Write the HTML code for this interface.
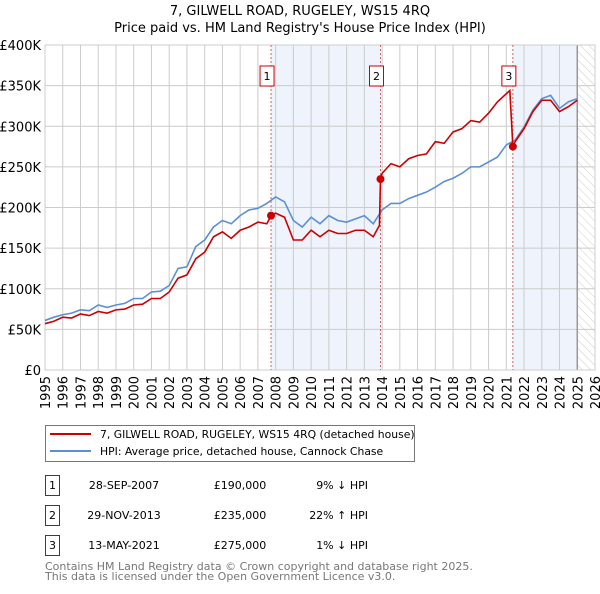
<!DOCTYPE html>
<html><head><meta charset="utf-8"><style>
body{margin:0;background:#fff;font-family:"DejaVu Sans","Liberation Sans",sans-serif;}
svg text{font-family:"DejaVu Sans","Liberation Sans",sans-serif;}
</style></head><body>
<svg id="chart" width="600" height="590" xmlns="http://www.w3.org/2000/svg">
<defs><pattern id="hatch" width="6" height="6" patternUnits="userSpaceOnUse" patternTransform="rotate(-45)"><line x1="0" y1="0" x2="0" y2="6" stroke="#ccc" stroke-width="1"/></pattern></defs>
<text x="300" y="15" text-anchor="middle" font-size="13">7, GILWELL ROAD, RUGELEY, WS15 4RQ</text>
<text x="300" y="32" text-anchor="middle" font-size="13">Price paid vs. HM Land Registry's House Price Index (HPI)</text>
<g id="bg"></g><g id="grid"></g><g id="marks"></g><g id="axes"></g>
<rect x="45.5" y="425.5" width="369" height="36" fill="#fff" stroke="#777"/>
<line x1="50" y1="434" x2="91" y2="434" stroke="#cc0000" stroke-width="2"/>
<text x="100" y="438" font-size="10.8">7, GILWELL ROAD, RUGELEY, WS15 4RQ (detached house)</text>
<line x1="50" y1="451" x2="91" y2="451" stroke="#5b8fd6" stroke-width="2"/>
<text x="100" y="455" font-size="10.8">HPI: Average price, detached house, Cannock Chase</text>
<g id="table" font-size="11"></g>
<text x="45" y="570" font-size="11" fill="#777">Contains HM Land Registry data © Crown copyright and database right 2025.</text>
<text x="45" y="580" font-size="11" fill="#777">This data is licensed under the Open Government Licence v3.0.</text>
</svg>
<script>
const hpiYears=[1995,1995.5,1996,1996.5,1997,1997.5,1998,1998.5,1999,1999.5,2000,2000.5,2001,2001.5,2002,2002.5,2003,2003.5,2004,2004.5,2005,2005.5,2006,2006.5,2007,2007.5,2008,2008.5,2009,2009.5,2010,2010.5,2011,2011.5,2012,2012.5,2013,2013.5,2014,2014.5,2015,2015.5,2016,2016.5,2017,2017.5,2018,2018.5,2019,2019.5,2020,2020.5,2021,2021.5,2022,2022.5,2023,2023.5,2024,2024.5,2025];
const hpiValues=[61,65,68,70,74,73,80,77,80,82,88,88,96,97,104,125,127,152,160,176,184,180,190,197,199,205,213,207,184,176,188,180,190,184,182,186,190,180,197,205,205,211,215,219,225,232,236,242,250,250,256,262,277,283,299,320,334,338,322,330,334];
const redYears=[1995,1995.5,1996,1996.5,1997,1997.5,1998,1998.5,1999,1999.5,2000,2000.5,2001,2001.5,2002,2002.5,2003,2003.5,2004,2004.5,2005,2005.5,2006,2006.5,2007,2007.5,2007.75,2008,2008.5,2009,2009.5,2010,2010.5,2011,2011.5,2012,2012.5,2013,2013.5,2013.85,2013.91,2014,2014.5,2015,2015.5,2016,2016.5,2017,2017.5,2018,2018.5,2019,2019.5,2020,2020.5,2021.2,2021.37,2021.5,2022,2022.5,2023,2023.5,2024,2024.5,2025];
const redValues=[57,60,65,64,69,67,72,70,74,75,80,81,88,88,96,113,117,137,145,164,170,162,172,176,182,180,190,193,188,160,160,172,164,172,168,168,172,172,164,178,235,242,254,250,260,264,266,281,279,293,297,307,305,316,330,344,275,281,297,318,332,332,318,324,332];
const saleYears=[2007.74,2013.91,2021.37];
const salePrices=[190,235,275];
const saleLabels=["1","2","3"];
const saleDates=["28-SEP-2007","29-NOV-2013","13-MAY-2021"];
const salePriceText=["£190,000","£235,000","£275,000"];
const saleHpiText=["9% ↓ HPI","22% ↑ HPI","1% ↓ HPI"];
const yTicks=[0,50,100,150,200,250,300,350,400];
const yTickLabels=["£0","£50K","£100K","£150K","£200K","£250K","£300K","£350K","£400K"];
const xTicks=[1995,1996,1997,1998,1999,2000,2001,2002,2003,2004,2005,2006,2007,2008,2009,2010,2011,2012,2013,2014,2015,2016,2017,2018,2019,2020,2021,2022,2023,2024,2025,2026];

const X0=45,X1=595,Y0=370,Y1=45;
const xs=y=>X0+(y-1995)/(2026-1995)*(X1-X0);
const ys=v=>Y0-v/400*(Y0-Y1);
const NS="http://www.w3.org/2000/svg";
function mk(parent,tag,attrs){const e=document.createElementNS(NS,tag);for(const k in attrs)e.setAttribute(k,attrs[k]);document.getElementById(parent).appendChild(e);return e;}
let r;
r=mk('bg','rect',{x:xs(saleYears[0]),y:Y1,width:xs(saleYears[1])-xs(saleYears[0]),height:Y0-Y1,fill:'#eef3fc'});


r=mk('bg','rect',{x:xs(saleYears[2]),y:Y1,width:xs(2025)-xs(saleYears[2]),height:Y0-Y1,fill:'#eef3fc'});


r=mk('bg','rect',{x:xs(2025),y:Y1,width:X1-xs(2025),height:Y0-Y1,fill:'url(#hatch)'});


yTicks.forEach((t,i)=>{mk('grid','line',{x1:X0,x2:X1,y1:ys(t),y2:ys(t),stroke:'#ccc'});
const tx=mk('axes','text',{x:X0-4,y:ys(t)+5,'text-anchor':'end','font-size':'13'});tx.textContent=yTickLabels[i];

});
xTicks.forEach(t=>{mk('grid','line',{x1:xs(t),x2:xs(t),y1:Y1,y2:Y0,stroke:'#ccc'});
const tx=mk('axes','text',{transform:`translate(${xs(t)+5},${Y0+6}) rotate(-90)`,'text-anchor':'end','font-size':'13'});tx.textContent=t;

});
mk('grid','line',{x1:xs(2025),x2:xs(2025),y1:Y1,y2:Y0,stroke:'#999','stroke-width':1.5});
mk('grid','rect',{x:X0,y:Y1,width:X1-X0,height:Y0-Y1,fill:'none',stroke:'#ccc'});
saleYears.forEach((s,i)=>{
const l=mk('marks','line',{x1:xs(s),x2:xs(s),y1:Y1,y2:Y0,stroke:'#e06060','stroke-dasharray':'2,2','stroke-width':1});


const b=mk('marks','rect',{x:xs(s)-7-4,y:66,width:14,height:20,fill:'#fff',stroke:'#cc0000'});


const t=mk('marks','text',{x:xs(s)-4,y:80,'text-anchor':'middle','font-size':'11'});t.textContent=saleLabels[i];
});
const p1=mk('marks','polyline',{points:hpiYears.map((y,i)=>xs(y)+','+ys(hpiValues[i])).join(' '),fill:'none',stroke:'#5b8fd6','stroke-width':1.6});


const p2=mk('marks','polyline',{points:redYears.map((y,i)=>xs(y)+','+ys(redValues[i])).join(' '),fill:'none',stroke:'#cc0000','stroke-width':1.6});


saleYears.forEach((s,i)=>{const c=mk('marks','circle',{cx:xs(s),cy:ys(salePrices[i]),r:4,fill:'#cc0000'});

});
saleLabels.forEach((lab,i)=>{const y0=475+i*30;
const b=mk('table','rect',{x:45.5,y:y0+0.5,width:14,height:20,fill:'#fff',stroke:'#cc0000'});


let t=mk('table','text',{x:52.5,y:y0+14,'text-anchor':'middle'});t.textContent=lab;
t=mk('table','text',{x:124,y:y0+14,'text-anchor':'middle'});t.textContent=saleDates[i];


t=mk('table','text',{x:240,y:y0+14,'text-anchor':'middle'});t.textContent=salePriceText[i];


t=mk('table','text',{x:368,y:y0+14,'text-anchor':'end'});t.textContent=saleHpiText[i];


});
</script>
</body></html>
